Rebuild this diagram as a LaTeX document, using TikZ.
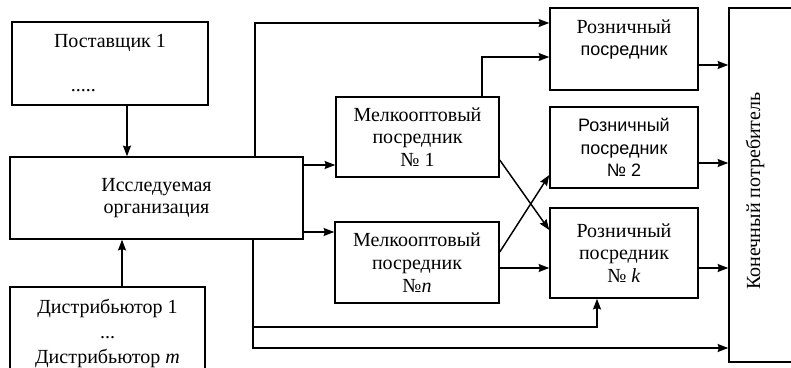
\documentclass[tikz,border=0pt]{standalone}
\usepackage{fontspec}
\setmainfont{Liberation Serif}
\newfontfamily\sansf{Liberation Sans}
\usetikzlibrary{arrows.meta,calc}
\begin{document}
\begin{tikzpicture}[x=0.75pt,y=-0.75pt,
 box/.style={draw,line width=1.1pt,inner sep=0pt,align=center,font=\fontsize{15}{17}\selectfont},
 arr/.style={line width=1.1pt,-{Stealth[length=8pt,width=6pt,inset=1pt]}},
 ln/.style={line width=1.1pt}]
\useasboundingbox (0,0) rectangle (791,367);
\clip (0,0) rectangle (791,367);
\node[box,minimum width=147pt,minimum height=62.25pt] (sup) at (110,63.5) {Поставщик 1\\[16pt]\hspace*{-40pt}.....};
\node[box,minimum width=219.75pt,minimum height=61.5pt] (org) at (156.5,198) {Исследуемая\\организация};
\node[box,minimum width=146.25pt,minimum height=69.75pt,font=\fontsize{15}{19}\selectfont] (dist) at (107.5,333.5) {Дистрибьютор 1\\...\\Дистрибьютор \textit{m}};
\node[box,minimum width=122.25pt,minimum height=60pt] (m1) at (417.5,137) {Мелкооптовый\\посредник\\№ 1};
\node[box,minimum width=123pt,minimum height=60.75pt] (mn) at (417,262.5) {Мелкооптовый\\посредник\\№\textit{n}};
\node[box,minimum width=111pt,minimum height=61.5pt] (r1) at (624,49) {Розничный\\{\sansf\fontsize{13.5}{17}\selectfont посредник}\\[0pt]\mbox{}};
\node[box,minimum width=111pt,minimum height=60.75pt,font=\sansf\fontsize{13.5}{17}\selectfont] (r2) at (624,147.5) {Розничный\\посредник\\№ 2};
\node[box,minimum width=111pt,minimum height=67.5pt] (rk) at (624,253) {Розничный\\посредник\\№ \textit{k}};
\node[box,minimum width=53.25pt,minimum height=265.5pt] (cons) at (764.5,185) {};
\node[rotate=90,inner sep=0pt,font=\fontsize{15}{17}\selectfont] (consl) at (755,191) {Конечный потребитель};
\coordinate (br) at (253,327);
\draw[arr] (127,0 |- sup.south) -- (127,0 |- org.north);
\draw[arr] (122,0 |- dist.north) -- (122,0 |- org.south);
\draw[arr] (org.east |- 0,165) -- (m1.west |- 0,165);
\draw[arr] (org.east |- 0,232) -- (mn.west |- 0,232);
\draw[arr] (255,0 |- org.north) -- (255,23) -- (r1.west |- 0,23);
\draw[arr] (482,0 |- m1.north) -- (482,57) -- (r1.west |- 0,57);
\draw[arr] (m1.east |- 0,160) -- (rk.west |- 0,230);
\draw[arr] (mn.east |- 0,252) -- (r2.west |- 0,175);
\draw[arr] (mn.east |- 0,268) -- (rk.west |- 0,268);
\draw[arr] (253,0 |- org.south) -- (253,348) -- (cons.west |- 0,348);
\draw[arr] (br) -- (597,327) -- (597,0 |- rk.south);
\draw[arr] (r1.east |- 0,65) -- (cons.west |- 0,65);
\draw[arr] (r2.east |- 0,163) -- (cons.west |- 0,163);
\draw[arr] (rk.east |- 0,268) -- (cons.west |- 0,268);
\end{tikzpicture}
\end{document}
